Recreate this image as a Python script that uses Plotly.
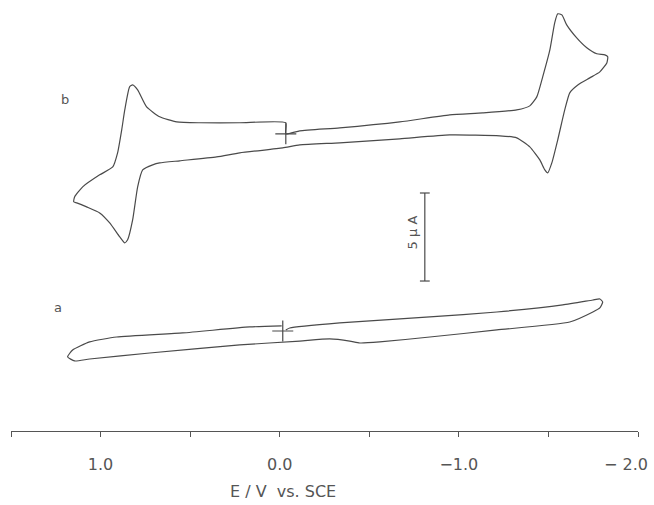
import plotly.graph_objects as go

# Curve b (upper voltammogram): potential E (V vs SCE) and current (uA, relative to start point)
E_b = [-0.034, -0.112, -0.335, -0.670, -0.949, -1.133, -1.323, -1.396, -1.435, -1.468,
       -1.508, -1.535, -1.552, -1.575, -1.602, -1.658, -1.714, -1.770, -1.815, -1.831,
       -1.826, -1.787, -1.731, -1.664, -1.619, -1.591, -1.552, -1.519, -1.496, -1.480,
       -1.452, -1.396, -1.323, -1.228, -0.949, -0.670, -0.335, -0.112, -0.017, 0.223,
       0.352, 0.558, 0.670, 0.709, 0.765, 0.793, 0.821, 0.849, 0.865, 0.893,
       0.949, 1.005, 1.078, 1.133, 1.150, 1.145, 1.100, 1.005, 0.932, 0.905,
       0.882, 0.865, 0.838, 0.821, 0.793, 0.743, 0.670, 0.575, 0.447, 0.223,
       -0.034, -0.034]
I_b = [0.00, 0.17, 0.34, 0.68, 1.08, 1.19, 1.36, 1.59, 2.10, 3.24,
       4.77, 6.31, 6.82, 6.76, 6.19, 5.45, 4.89, 4.55, 4.49, 4.38,
       4.03, 3.52, 3.18, 2.78, 2.33, 1.36, -0.34, -1.65, -2.22, -2.05,
       -1.48, -0.74, -0.23, -0.11, -0.06, -0.28, -0.51, -0.63, -0.80, -1.08,
       -1.31, -1.53, -1.65, -1.76, -2.05, -3.01, -4.89, -6.02, -6.19, -5.85,
       -5.06, -4.49, -4.15, -3.92, -3.86, -3.58, -3.01, -2.33, -1.88, -1.08,
       0.23, 1.36, 2.67, 2.78, 2.50, 1.53, 0.97, 0.68, 0.63, 0.63,
       0.63, 0.00]

# Curve a (lower voltammogram, background)
E_a = [-0.034, -0.056, -0.335, -0.838, -1.212, -1.580, -1.748, -1.787, -1.803, -1.787,
       -1.748, -1.619, -1.212, -0.838, -0.558, -0.447, -0.391, -0.279, -0.112, 0.223,
       0.726, 1.061, 1.145, 1.184, 1.156, 1.061, 0.910, 0.542, 0.168, -0.011]
I_a = [0.00, 0.11, 0.40, 0.74, 1.02, 1.42, 1.70, 1.76, 1.59, 1.25,
       1.02, 0.45, 0.00, -0.40, -0.68, -0.74, -0.63, -0.51, -0.63, -0.85,
       -1.31, -1.65, -1.76, -1.53, -1.14, -0.68, -0.40, -0.17, 0.17, 0.23]

OFFSET_B = 11.14          # vertical separation of curve b (uA)
START_E = [-0.034, -0.017]  # start-point crosses (b, a)
START_I = [0.0, -0.06]

SCALE_E = -0.81           # 5 uA scale bar
SCALE_I = [2.78, 7.78]

TICK_VALS = [1.5, 1.0, 0.5, 0.0, -0.5, -1.0, -1.5, -2.0]
TICK_TEXT = ["", "1.0", "", "0.0", "", "\u22121.0", "", ""]
LAST_LABEL = "\u2212 2.0"

INK = "#4a4a4a"
TXT = "#555555"
FONT = "DejaVu Sans"

fig = go.Figure()
fig.add_trace(go.Scatter(x=E_b, y=[v + OFFSET_B for v in I_b], mode="lines",
                         line=dict(color=INK, width=1.2, shape="spline", smoothing=0.5),
                         showlegend=False))
fig.add_trace(go.Scatter(x=E_a, y=I_a, mode="lines",
                         line=dict(color=INK, width=1.2, shape="spline", smoothing=0.5),
                         showlegend=False))
fig.add_trace(go.Scatter(x=START_E, y=[START_I[0] + OFFSET_B, START_I[1]], mode="markers",
                         marker=dict(symbol="cross-thin", size=15,
                                     line=dict(color=INK, width=1.2)),
                         showlegend=False))
fig.add_trace(go.Scatter(x=[SCALE_E, SCALE_E], y=SCALE_I, mode="lines+markers",
                         line=dict(color=INK, width=1.2),
                         marker=dict(symbol="line-ew", size=7,
                                     line=dict(color=INK, width=1.2)),
                         showlegend=False))

fig.add_annotation(x=SCALE_E + 0.067, y=(SCALE_I[0] + SCALE_I[1]) / 2 + 0.25, text="5 \u00b5 A",
                   textangle=-90, showarrow=False, font=dict(family=FONT, size=13, color=TXT))
fig.add_annotation(x=1.20, y=OFFSET_B + 1.95, text="b", showarrow=False,
                   font=dict(family=FONT, size=13, color=TXT))
fig.add_annotation(x=1.24, y=1.3, text="a", showarrow=False,
                   font=dict(family=FONT, size=13, color=TXT))
fig.add_annotation(x=1.019, xref="paper", xanchor="right", y=-0.0775, yref="paper",
                   yanchor="middle", text=LAST_LABEL, showarrow=False,
                   font=dict(family=FONT, size=16, color=TXT))
fig.add_annotation(x=-0.02, xref="x", y=-0.143, yref="paper", yanchor="middle",
                   text="E / V  vs. SCE", showarrow=False,
                   font=dict(family=FONT, size=16, color=TXT))

fig.update_layout(
    width=654, height=505,
    margin=dict(l=11, r=16, t=5, b=74),
    paper_bgcolor="white", plot_bgcolor="white",
    xaxis=dict(range=[1.5, -2.0], tickvals=TICK_VALS, ticktext=TICK_TEXT,
               showline=True, linecolor=TXT, linewidth=1,
               ticks="outside", ticklen=5, tickcolor=TXT, tickwidth=1,
               ticklabelstandoff=14,
               tickfont=dict(family=FONT, size=16, color=TXT),
               showgrid=False, zeroline=False, fixedrange=True),
    yaxis=dict(range=[-5.74, 18.46], visible=False, showgrid=False,
               zeroline=False, fixedrange=True),
)

fig.write_html("out.html", config={"displayModeBar": False},
               post_script="document.body.style.margin='0';")
